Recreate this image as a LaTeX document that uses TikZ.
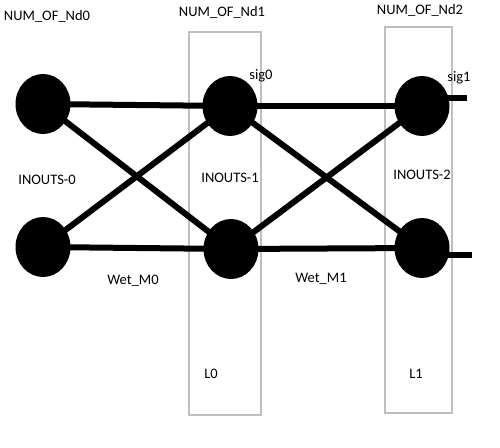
\documentclass[tikz,border=0pt]{standalone}
\usepackage{fontspec}
\setmainfont{Carlito}
\usetikzlibrary{shapes.geometric}

\tikzset{
  neuron/.style={ellipse, fill=black, minimum width=55pt, minimum height=60pt, inner sep=0pt},
  wire/.style={line width=6pt, black},
  layerbox/.style={draw=black!25, line width=1.2pt},
  lbl/.style={inner sep=0.75pt, font=\fontsize{14.5}{17}\selectfont}
}

\begin{document}
\begin{tikzpicture}[x=1pt,y=1pt,yscale=-1,xscale=1]
\useasboundingbox (0,0) rectangle (500,447);

\draw [layerbox]  (189,32) -- (261,32) -- (261,415) -- (189,415) -- cycle ;
\draw [layerbox]  (385,27) -- (452,27) -- (452,413) -- (385,413) -- cycle ;

\node [neuron] (n00) at (43,104) {};
\node [neuron] (n01) at (43,247) {};
\node [neuron] (n10) at (230,106) {};
\node [neuron] (n11) at (231,249) {};
\node [neuron] (n20) at (422,106) {};
\node [neuron] (n21) at (422,248) {};
\coordinate (out0) at (467,98);
\coordinate (out1) at (472,255);

\draw [wire]  (n00.center) -- (n10.center) ;
\draw [wire]  (n01.center) -- (n11.center) ;
\draw [wire]  (n00.center) -- (n11.center) ;
\draw [wire]  (n01.center) -- (n10.center) ;

\draw [wire]  (n10.center) -- (n20.center) ;
\draw [wire]  (n11.center) -- (n21.center) ;
\draw [wire]  (n10.center) -- (n21.center) ;
\draw [wire]  (n11.center) -- (n20.center) ;

\draw [wire]  (n20.center |- out0) -- (out0) ;
\draw [wire]  (n21.center |- out1) -- (out1) ;

\node [lbl] (nd0) at (47,16) {NUM\_OF\_Nd0};
\node [lbl] (nd1) at (222,12) {NUM\_OF\_Nd1};
\node [lbl] (nd2) at (420,10) {NUM\_OF\_Nd2};
\node [lbl] (sig0) at (261,76) {sig0};
\node [lbl] (sig1) at (459,78) {sig1};
\node [lbl] (io0) at (47,180) {INOUTS-0};
\node [lbl] (io1) at (230,178) {INOUTS-1};
\node [lbl] (io2) at (422,175) {INOUTS-2};
\node [lbl] (wm0) at (133,281) {Wet\_M0};
\node [lbl] (wm1) at (321,279) {Wet\_M1};
\node [lbl] (l0) at (211,374) {L0};
\node [lbl] (l1) at (416,374) {L1};
\end{tikzpicture}
\end{document}
